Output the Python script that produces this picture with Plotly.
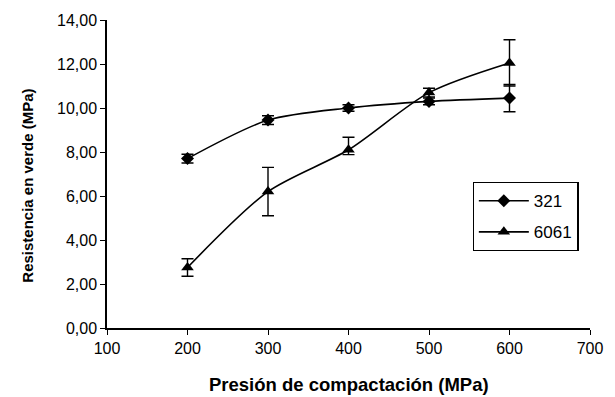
import plotly.graph_objects as go

x_vals = [200, 300, 400, 500, 600]
s321 = [7.70, 9.45, 10.00, 10.30, 10.45]
s321_err = [0.20, 0.20, 0.15, 0.15, 0.62]
s6061 = [2.75, 6.20, 8.10, 10.70, 12.05]
s6061_err_plus = [0.40, 1.10, 0.57, 0.20, 1.05]
s6061_err_minus = [0.40, 1.10, 0.22, 0.20, 1.05]
y_ticks = [0, 2, 4, 6, 8, 10, 12, 14]
y_tick_labels = ["0,00", "2,00", "4,00", "6,00", "8,00", "10,00", "12,00", "14,00"]
x_ticks = [100, 200, 300, 400, 500, 600, 700]

fig = go.Figure()
fig.add_trace(go.Scatter(
    x=x_vals, y=s321, name="321", mode="lines+markers", legendgroup="a",
    line=dict(color="black", width=1.6, shape="spline", smoothing=0.8),
    marker=dict(symbol="diamond", size=10, color="black"),
    error_y=dict(type="data", array=s321_err, color="black", thickness=1.4, width=6),
))
fig.add_trace(go.Scatter(
    x=x_vals, y=s6061, name="6061", mode="lines+markers", legendgroup="b",
    line=dict(color="black", width=1.6, shape="spline", smoothing=0.8),
    marker=dict(symbol="triangle-up", size=11, color="black"),
    error_y=dict(type="data", array=s6061_err_plus, arrayminus=s6061_err_minus,
                 symmetric=False, color="black", thickness=1.4, width=6),
))

fig.update_layout(
    width=615, height=397,
    margin=dict(l=107, r=17, t=20, b=69),
    paper_bgcolor="white", plot_bgcolor="white",
    font=dict(family="Liberation Sans, Arial, sans-serif", color="black", size=16),
    showlegend=True,
    legend=dict(
        x=0.757, y=0.474, xanchor="left", yanchor="top",
        bordercolor="black", borderwidth=1.2, bgcolor="white",
        font=dict(size=17), tracegroupgap=6, itemwidth=50,
    ),
    xaxis=dict(
        range=[100, 700], tickvals=x_ticks,
        showline=True, linecolor="black", linewidth=1.5,
        ticks="outside", ticklen=5, tickcolor="black", tickwidth=1.2,
        showgrid=False, zeroline=False,
        tickfont=dict(size=16),
    ),
    yaxis=dict(
        range=[0, 14], tickvals=y_ticks, ticktext=y_tick_labels,
        showline=True, linecolor="black", linewidth=1.5,
        ticks="outside", ticklen=5, tickcolor="black", tickwidth=1.2,
        showgrid=False, zeroline=False,
        tickfont=dict(size=16),
    ),
    annotations=[
        dict(text="<b>Presión de compactación (MPa)</b>", xref="paper", yref="paper",
             x=0.5, y=-0.183, xanchor="center", yanchor="middle", showarrow=False,
             font=dict(size=18.5)),
        dict(text="<b>Resistencia en verde (MPa)</b>", xref="paper", yref="paper",
             x=-0.165, y=0.463, xanchor="center", yanchor="middle", showarrow=False,
             textangle=-90, font=dict(size=15)),
    ],
)

fig.write_html("out.html", config={"displayModeBar": False},
               post_script="document.body.style.margin='0';")
